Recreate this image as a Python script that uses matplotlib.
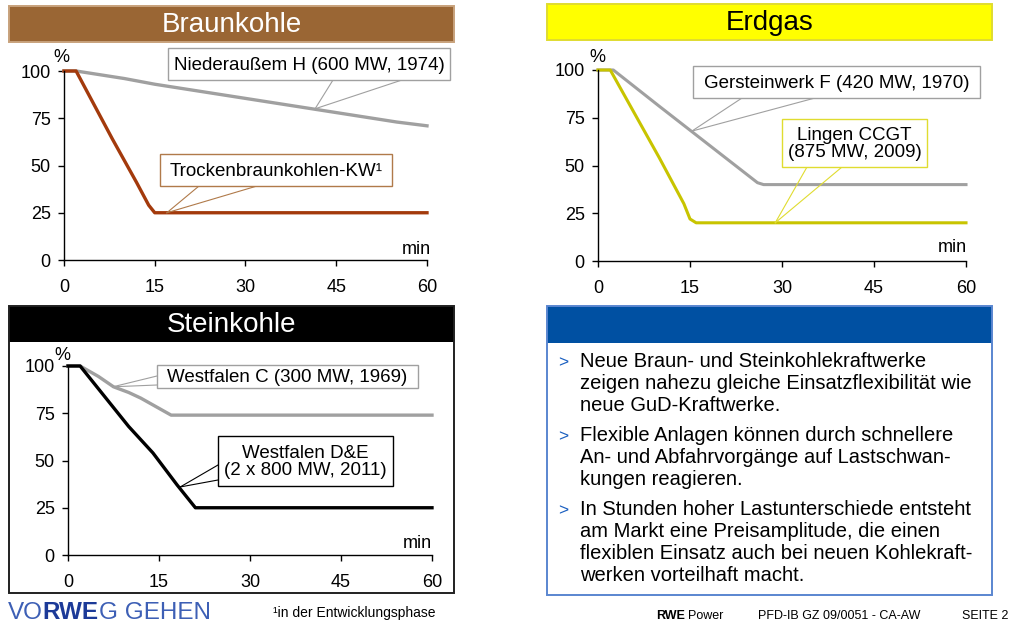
import matplotlib
matplotlib.use("Agg")
import matplotlib.pyplot as plt
from matplotlib.patches import Rectangle

plt.rcParams['font.family'] = ['Liberation Sans', 'DejaVu Sans']

W, H = 1012, 624

# ---------------- data ----------------
xticks = [0, 15, 30, 45, 60]
yticks = [0, 25, 50, 75, 100]

# Braunkohle
nieder_t = [0, 2, 5, 10, 15, 20, 25, 30, 35, 40, 45, 50, 55, 60]
nieder_v = [100, 100, 98.5, 96, 93, 90.5, 88, 85.5, 83, 80.5, 78, 75.5, 73, 71]
trocken_t = [0, 2, 4, 8, 12, 14, 15, 60]
trocken_v = [100, 100, 88, 64, 41, 29, 25, 25]

# Erdgas
gerst_t = [0, 2.5, 10, 15, 20, 26, 27, 60]
gerst_v = [100, 100, 81, 68.5, 56, 41, 40, 40]
lingen_t = [0, 2, 6, 10, 14, 15, 16, 60]
lingen_v = [100, 100, 77, 54, 30, 22, 20, 20]

# Steinkohle
westc_t = [0, 2, 5, 7.5, 10, 12, 14.5, 17, 60]
westc_v = [100, 100, 94.5, 89, 86, 83, 78.5, 74, 74]
westde_t = [0, 2, 6, 10, 14, 18, 21, 60]
westde_v = [100, 100, 84, 68, 54, 37, 25, 25]

titles = ["Braunkohle", "Erdgas", "Steinkohle"]

bullets = [
    ["Neue Braun- und Steinkohlekraftwerke",
     "zeigen nahezu gleiche Einsatzflexibilität wie",
     "neue GuD-Kraftwerke."],
    ["Flexible Anlagen können durch schnellere",
     "An- und Abfahrvorgänge auf Lastschwan-",
     "kungen reagieren."],
    ["In Stunden hoher Lastunterschiede entsteht",
     "am Markt eine Preisamplitude, die einen",
     "flexiblen Einsatz auch bei neuen Kohlekraft-",
     "werken vorteilhaft macht."],
]

# ---------------- colours ----------------
BROWN_HDR = "#9a6634"
BROWN_BRD = "#c8a27c"
BROWN_LN = "#a33a0c"
YEL_HDR = "#ffff00"
YEL_BRD = "#e0dc30"
YEL_LN = "#c8c400"
GRAY_LN = "#a0a0a0"
BLUE_HDR = "#0050a2"
BLUE_BRD = "#5a86d0"

fig = plt.figure(figsize=(W / 100, H / 100), dpi=100)
fig.patch.set_facecolor("white")


def make_axes(l, r, t, b):
    ax = fig.add_axes([l / W, 1 - b / H, (r - l) / W, (b - t) / H])
    ax.set_xlim(0, 60)
    ax.set_ylim(0, 100)
    ax.set_xticks(xticks)
    ax.set_yticks(yticks)
    for s in ("top", "right"):
        ax.spines[s].set_visible(False)
    for s in ("left", "bottom"):
        ax.spines[s].set_linewidth(1.0)
    ax.tick_params(axis="both", direction="out", length=4.5, width=1.0,
                   labelsize=13)
    ax.tick_params(axis="y", pad=5)
    ax.tick_params(axis="x", pad=9)
    ax.patch.set_alpha(0)
    return ax


ax1 = make_axes(64, 427, 71, 260)
ax1.plot(nieder_t, nieder_v, color=GRAY_LN, lw=2.4, clip_on=False)
ax1.plot(trocken_t, trocken_v, color=BROWN_LN, lw=2.4, clip_on=False)

ax2 = make_axes(598, 966, 70, 261)
ax2.plot(gerst_t, gerst_v, color=GRAY_LN, lw=2.2, clip_on=False)
ax2.plot(lingen_t, lingen_v, color=YEL_LN, lw=2.2, clip_on=False)

ax3 = make_axes(68, 432, 366, 555)
ax3.plot(westc_t, westc_v, color=GRAY_LN, lw=2.4, clip_on=False)
ax3.plot(westde_t, westde_v, color="black", lw=2.4, clip_on=False)

fig.canvas.draw()

# overlay in pixel coordinates
ov = fig.add_axes([0, 0, 1, 1], zorder=10)
ov.set_xlim(0, W)
ov.set_ylim(H, 0)
ov.axis("off")
ov.patch.set_alpha(0)


def to_px(ax, x, y):
    X, Y = ax.transData.transform((x, y))
    return X * W / fig.bbox.width, H - Y * H / fig.bbox.height


def width_px(t):
    fig.canvas.draw()
    return t.get_window_extent().width * W / fig.bbox.width


def panel(l, r, t, b, hb, hdr, brd, title, tcol):
    ov.add_patch(Rectangle((l, t), r - l, hb - t, facecolor=hdr, edgecolor="none"))
    ov.add_patch(Rectangle((l, t), r - l, b - t, facecolor="none", edgecolor=brd, lw=1.4))
    if title:
        ov.text((l + r) / 2, (t + hb) / 2 + 1, title, color=tcol, fontsize=20,
                ha="center", va="center")


panel(9, 454, 6, 42, 42, BROWN_HDR, BROWN_BRD, titles[0], "white")
panel(547, 992, 4, 40, 40, YEL_HDR, YEL_BRD, titles[1], "black")
panel(9, 454, 306, 593, 342, "black", "#202020", titles[2], "white")
panel(547, 992, 306, 595, 343, BLUE_HDR, BLUE_BRD, None, "white")

# axis unit labels
for (px, py) in [(61, 58), (597, 58), (62, 356)]:
    ov.text(px, py, "%", fontsize=13, ha="center", va="center")
for (px, py) in [(431, 249), (967, 248), (432, 543)]:
    ov.text(px, py, "min", fontsize=13, ha="right", va="center")


def callout(ax, target, box, pts, col, text):
    tx, ty = to_px(ax, *target)
    for (px, py) in pts:
        ov.plot([px, tx], [py, ty], color=col, lw=0.8)
    l, r, t, b = box
    ov.add_patch(Rectangle((l, t), r - l, b - t, facecolor="white", edgecolor=col, lw=1.0, zorder=3))
    ov.text((l + r) / 2, (t + b) / 2 + 1, text, fontsize=13.5, ha="center", va="center",
            linespacing=0.95, zorder=4)


callout(ax1, (41.5, 80), (168, 450, 48, 80), [(333, 80), (402, 80)], GRAY_LN,
        "Niederaußem H (600 MW, 1974)")
callout(ax1, (17, 25), (160, 392, 154, 186), [(199, 186), (257, 186)], "#b07a4a",
        "Trockenbraunkohlen-KW¹")
callout(ax2, (15.3, 68), (693, 980, 66, 98), [(742, 98), (815, 98)], GRAY_LN,
        "Gersteinwerk F (420 MW, 1970)")
callout(ax2, (28.9, 20), (782, 927, 119, 167), [(807, 167), (842, 167)], "#e0dc30",
        "Lingen CCGT\n(875 MW, 2009)")
callout(ax3, (7.4, 89), (157, 418, 365, 388), [(157, 376), (157, 385)], GRAY_LN,
        "Westfalen C (300 MW, 1969)")
callout(ax3, (18.5, 36), (218, 393, 436, 486), [(218, 465), (218, 480)], "black",
        "Westfalen D&E\n(2 x 800 MW, 2011)")

# bullet text
y = 367
for para in bullets:
    ov.text(558, y, ">", color="#1a5fc0", fontsize=12.5, ha="left", va="baseline")
    for line in para:
        ov.text(580, y, line, fontsize=14.5, ha="left", va="baseline")
        y += 22
    y += 8

# footer
logo_parts = [("VO", "#3d5fb5", "normal"), ("RWE", "#1c3a98", "bold"), ("G GEHEN", "#3d5fb5", "normal")]
x = 8
for txt, col, wt in logo_parts:
    t = ov.text(x, 619, txt, color=col, fontsize=17.5, fontweight=wt,
                ha="left", va="baseline")
    x += width_px(t)

ov.text(273, 617, "¹in der Entwicklungsphase", fontsize=10,
        ha="left", va="baseline")
t = ov.text(656, 619, "RWE", fontsize=9, fontweight="bold",
            ha="left", va="baseline")
ov.text(656 + width_px(t) + 3, 619, "Power", fontsize=9,
        ha="left", va="baseline")
ov.text(758, 619, "PFD-IB GZ 09/0051 - CA-AW", fontsize=9,
        ha="left", va="baseline")
ov.text(962, 619, "SEITE 2", fontsize=9,
        ha="left", va="baseline")

fig.savefig("out.png", dpi=100, facecolor="white")
